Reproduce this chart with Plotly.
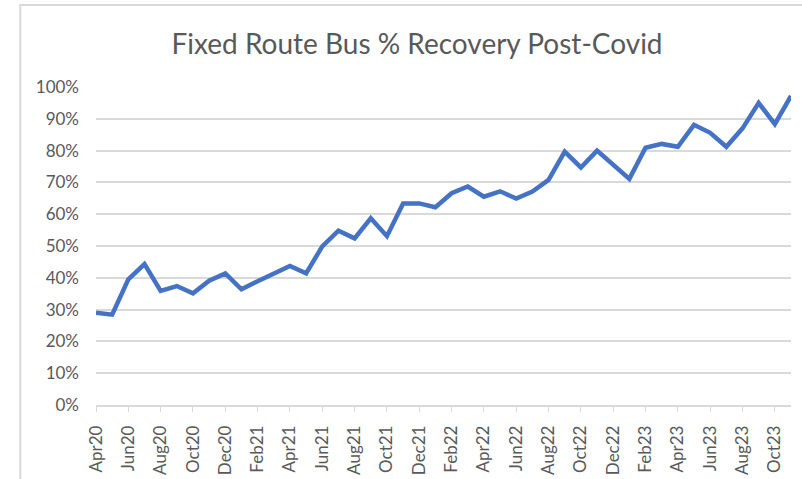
import plotly.graph_objects as go

# monthly share of pre-Covid ridership, Apr 2020 - Nov 2023
months = [
    "Apr20", "May20", "Jun20", "Jul20", "Aug20", "Sep20", "Oct20", "Nov20", "Dec20",
    "Jan21", "Feb21", "Mar21", "Apr21", "May21", "Jun21", "Jul21", "Aug21", "Sep21",
    "Oct21", "Nov21", "Dec21", "Jan22", "Feb22", "Mar22", "Apr22", "May22", "Jun22",
    "Jul22", "Aug22", "Sep22", "Oct22", "Nov22", "Dec22", "Jan23", "Feb23", "Mar23",
    "Apr23", "May23", "Jun23", "Jul23", "Aug23", "Sep23", "Oct23", "Nov23",
]
recovery = [
    0.290, 0.284, 0.395, 0.443, 0.359, 0.374, 0.351, 0.391, 0.414,
    0.364, 0.389, 0.414, 0.437, 0.414, 0.499, 0.548, 0.524, 0.587,
    0.531, 0.634, 0.634, 0.622, 0.666, 0.687, 0.655, 0.672, 0.649,
    0.671, 0.708, 0.797, 0.747, 0.800, 0.755, 0.711, 0.809, 0.821,
    0.812, 0.881, 0.856, 0.812, 0.870, 0.950, 0.883, 0.972,
]
tick_labels = months[::2]

GREY = "#595959"
GRID = "#d9d9d9"
FONT = "Lato, Calibri, Arial, sans-serif"

fig = go.Figure(go.Scatter(
    x=months, y=recovery, mode="lines",
    line=dict(color="#4472C4", width=4.5),
))

fig.update_layout(
    width=802, height=479,
    margin=dict(l=96, r=11, t=87, b=74),
    paper_bgcolor="white", plot_bgcolor="white",
    showlegend=False,
    font=dict(family=FONT, size=17, color=GREY),
    title=dict(text="Fixed Route Bus % Recovery Post-Covid",
               x=0.52, xref="container", xanchor="center",
               y=0.908, yref="container", yanchor="middle",
               font=dict(size=28, color=GREY, family=FONT)),
)

fig.update_xaxes(
    type="category", range=[0, len(months) - 1],
    tickmode="array", tickvals=tick_labels, ticktext=tick_labels,
    tickangle=-90, ticks="outside", ticklen=5, tickcolor=GRID,
    showline=True, linecolor=GRID, linewidth=1.5,
    showgrid=False, zeroline=False, automargin=False,
    ticklabelstandoff=7,
    tickfont=dict(size=17, color=GREY),
)
fig.update_yaxes(
    range=[0, 1.0], dtick=0.1, tickformat=".0%",
    showgrid=True, gridcolor=GRID, gridwidth=1.5,
    zeroline=False, showline=False, ticks="", automargin=False,
    ticklabelstandoff=16,
    tickfont=dict(size=17, color=GREY),
)

# chart-area border, as on the source chart
fig.add_shape(type="rect", xref="paper", yref="paper",
              x0=-0.109, x1=1.2, y0=-0.5, y1=1.258,
              line=dict(color=GRID, width=2), fillcolor="rgba(0,0,0,0)",
              layer="below")

# drop the browser's default 8px page margin so the figure sits at 0,0
fig.write_html("out.html", config={"displayModeBar": False},
               post_script="document.body.style.margin='0';")
